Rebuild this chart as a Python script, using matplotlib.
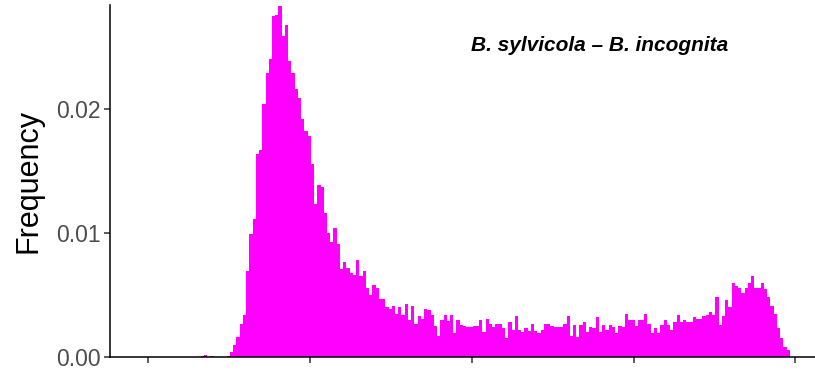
import numpy as np
import matplotlib
matplotlib.use("Agg")
import matplotlib.pyplot as plt

plt.rcParams['font.family'] = ['Liberation Sans', 'DejaVu Sans']

# Histogram of pairwise values, bin width 0.005
bin_width = 0.005
first_edge = 0.0815
freq = [
    0.0001, 0.00015, 0.0, 0.0001, 0.0, 0.0, 0.0, 0.0, 0.0001,
    0.0004, 0.0010, 0.0016, 0.0027, 0.0034, 0.0069, 0.0099, 0.0111, 0.0164, 0.0167,
    0.0204, 0.0229, 0.0240, 0.0275, 0.0276, 0.0283, 0.0259, 0.0268, 0.0239, 0.0229,
    0.0216, 0.0209, 0.0192, 0.0182, 0.0178, 0.0156, 0.0123, 0.0139, 0.0137, 0.0116,
    0.0100, 0.0093, 0.0104, 0.0091, 0.0071, 0.0077, 0.0072, 0.0068, 0.0066, 0.0078,
    0.0065, 0.0069, 0.0056, 0.0050, 0.0058, 0.0056, 0.0047, 0.0047, 0.0040, 0.0039,
    0.0041, 0.0035, 0.0040, 0.0034, 0.0043, 0.0030, 0.0041, 0.0027, 0.0033, 0.0031,
    0.0039, 0.0038, 0.0034, 0.0025, 0.0017, 0.0030, 0.0034, 0.0029, 0.0034, 0.0019,
    0.0030, 0.0026, 0.0025, 0.0024, 0.0024, 0.0025, 0.0025, 0.0030, 0.0020, 0.0031,
    0.0027, 0.0024, 0.0027, 0.0027, 0.0023, 0.0015, 0.0028, 0.0022, 0.0033, 0.0022,
    0.0020, 0.0023, 0.0021, 0.0027, 0.0021, 0.0019, 0.0022, 0.0027, 0.0027, 0.0025,
    0.0024, 0.0024, 0.0024, 0.0027, 0.0033, 0.0017, 0.0026, 0.0016, 0.0026, 0.0028,
    0.0020, 0.0024, 0.0023, 0.0032, 0.0020, 0.0026, 0.0022, 0.0026, 0.0024, 0.0019,
    0.0025, 0.0024, 0.0035, 0.0030, 0.0030, 0.0025, 0.0030, 0.0030, 0.0035, 0.0027,
    0.0019, 0.0023, 0.0019, 0.0026, 0.0030, 0.0026, 0.0022, 0.0028, 0.0034, 0.0028,
    0.0030, 0.0028, 0.0028, 0.0032, 0.0031, 0.0031, 0.0033, 0.0034, 0.0036, 0.0034,
    0.0048, 0.0026, 0.0033, 0.0046, 0.0040, 0.0060, 0.0057, 0.0056, 0.0052, 0.0056,
    0.0060, 0.0065, 0.0056, 0.0056, 0.0060, 0.0055, 0.0048, 0.0041, 0.0035, 0.0023,
    0.0015, 0.0008, 0.0006,
]
x_ticks = [0.0, 0.25, 0.5, 0.75, 1.0]
y_ticks = [0.00, 0.01, 0.02]
y_tick_labels = ['0.00', '0.01', '0.02']
title = 'B. sylvicola \u2013 B. incognita'

edges = first_edge + bin_width * np.arange(len(freq) + 1)

fig = plt.figure(figsize=(8.15, 3.71), dpi=100)
ax = fig.add_axes([110 / 815, 14 / 371, 705 / 815, 352 / 371])

ax.stairs(freq, edges, fill=True, color='#FF00FF', linewidth=0)

ax.set_xlim(-0.0587, 1.0303)
ax.set_ylim(0, 0.02839)

ax.set_xticks(x_ticks)
ax.set_xticklabels([])
ax.set_yticks(y_ticks)
ax.set_yticklabels(y_tick_labels)

for side in ['top', 'right']:
    ax.spines[side].set_visible(False)
for side in ['left', 'bottom']:
    ax.spines[side].set_linewidth(1.1)
    ax.spines[side].set_color('black')

ax.tick_params(axis='both', direction='out', length=4, width=1.1,
               color='#333333', labelcolor='#4D4D4D', labelsize=16.5, pad=3)

ax.set_ylabel('Frequency', fontsize=22, color='black', labelpad=9)

ax.text(0.694, 0.886, title, transform=ax.transAxes, ha='center', va='center',
        fontsize=15, fontweight='bold', fontstyle='italic', color='black')

fig.savefig('out.png', dpi=100)
